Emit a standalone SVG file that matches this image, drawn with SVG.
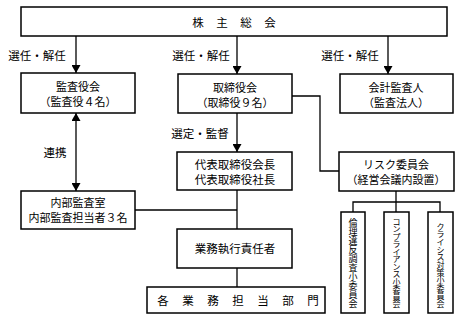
<svg xmlns="http://www.w3.org/2000/svg" width="460" height="320" viewBox="0 0 460 320">
<style>
.box{fill:#fff;stroke:#000;stroke-width:1.5}
.ln{fill:none;stroke:#000;stroke-width:1.3}
text{font-family:"Noto Sans CJK JP","Noto Sans",sans-serif;font-size:11.5px;fill:#000;text-anchor:middle;dominant-baseline:central}
.s{font-size:11px}
.v1{font-size:9px}
.v2{font-size:8px}
</style>
<defs>
<marker id="ah" viewBox="0 0 8 9" refX="8" refY="4.5" markerWidth="8" markerHeight="9" markerUnits="userSpaceOnUse" orient="auto-start-reverse">
<path d="M0,0 L8,4.5 L0,9 Z" fill="#000"/>
</marker>
</defs>
<rect width="460" height="320" fill="#fff"/>
<g id="connectors">
<line class="ln" x1="76" y1="36" x2="76" y2="73" marker-end="url(#ah)"/>
<line class="ln" x1="237" y1="36" x2="237" y2="74" marker-end="url(#ah)"/>
<line class="ln" x1="388" y1="36" x2="388" y2="74" marker-end="url(#ah)"/>
<line class="ln" x1="237" y1="113" x2="237" y2="152" marker-end="url(#ah)"/>
<line class="ln" x1="76" y1="113" x2="76" y2="191" marker-start="url(#ah)" marker-end="url(#ah)"/>
<polyline class="ln" points="292,96 320,96 320,171 339,171"/>
<line class="ln" x1="237" y1="190" x2="237" y2="229"/>
<line class="ln" x1="135" y1="210" x2="237" y2="210"/>
<line class="ln" x1="237" y1="268" x2="237" y2="287"/>
<line class="ln" x1="396" y1="191" x2="396" y2="212"/>
<polyline class="ln" points="353,212 353,202 440,202 440,212"/>
<text x="37" y="55">選任・解任</text>
<text x="201" y="55">選任・解任</text>
<text x="350" y="55">選任・解任</text>
<text x="200" y="133">選定・監督</text>
<text x="55" y="152">連携</text>
</g>
<g id="n-shareholders">
<rect class="box" x="21" y="7" width="426" height="29"/>
<text y="22"><tspan x="198">株</tspan><tspan x="222">主</tspan><tspan x="246">総</tspan><tspan x="270">会</tspan></text>
</g>
<g id="n-kansayakukai">
<rect class="box" x="21" y="73" width="114" height="40"/>
<text class="s" x="78" y="86">監査役会</text>
<text class="s" x="78" y="101">（監査役４名）</text>
</g>
<g id="n-torishimariyakukai">
<rect class="box" x="178" y="74" width="114" height="39"/>
<text class="s" x="235" y="87">取締役会</text>
<text class="s" x="235" y="102">（取締役９名）</text>
</g>
<g id="n-kaikei">
<rect class="box" x="340" y="74" width="113" height="39"/>
<text class="s" x="396" y="87">会計監査人</text>
<text class="s" x="396" y="102">（監査法人）</text>
</g>
<g id="n-daihyo">
<rect class="box" x="177" y="152" width="115" height="38"/>
<text x="235" y="164">代表取締役会長</text>
<text x="235" y="179">代表取締役社長</text>
</g>
<g id="n-risk">
<rect class="box" x="339" y="152" width="115" height="39"/>
<text class="s" x="396" y="164">リスク委員会</text>
<text class="s" x="396" y="179">（経営会議内設置）</text>
</g>
<g id="n-naibu">
<rect class="box" x="21" y="191" width="114" height="38"/>
<text class="s" x="78" y="202">内部監査室</text>
<text class="s" x="78" y="217">内部監査担当者３名</text>
</g>
<g id="n-gyomu">
<rect class="box" x="177" y="229" width="115" height="39"/>
<text x="235" y="248">業務執行責任者</text>
</g>
<g id="n-bumon">
<rect class="box" x="147" y="287" width="178" height="26"/>
<text y="300"><tspan x="163">各</tspan><tspan x="188">業</tspan><tspan x="213">務</tspan><tspan x="238">担</tspan><tspan x="263">当</tspan><tspan x="288">部</tspan><tspan x="313">門</tspan></text>
</g>
<g id="n-rinri">
<rect class="box" x="341" y="212" width="24" height="101"/>
<text class="v1" x="353 353 353 353 353 353 353 353 353 353" y="222 231 240 249 258 267 276 285 294 303">倫理違反調査小委員会</text>
</g>
<g id="n-compliance">
<rect class="box" x="384" y="212" width="25" height="101"/>
<text class="v2" x="396.5 396.5 396.5 396.5 396.5 396.5 396.5 396.5 396.5 396.5 396.5 396.5" y="221 228.5 236 243.5 251 258.5 266 273.5 281 288.5 296 303.5">コンプライアンス小委員会</text>
</g>
<g id="n-crisis">
<rect class="box" x="428" y="212" width="25" height="101"/>
<text class="v2" x="440.5 440.5 440.5 440.5 440.5 440.5 440.5 440.5 440.5 440.5 440.5" y="226 233.7 241.4 249.1 256.8 264.5 272.2 279.9 287.6 295.3 303">クライシス対策小委員会</text>
</g>
</svg>
